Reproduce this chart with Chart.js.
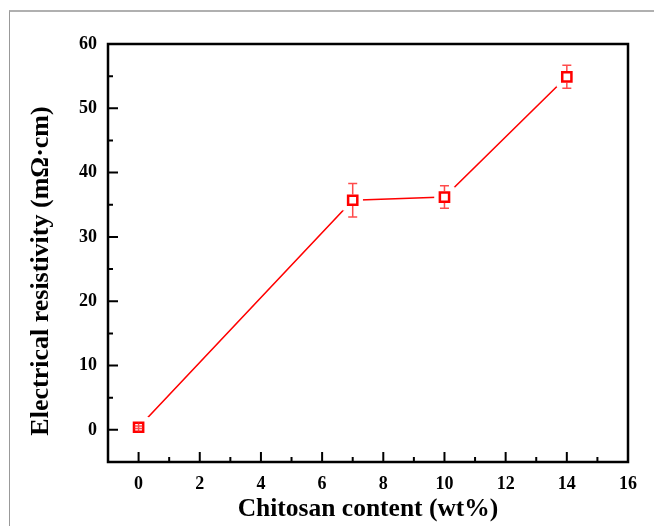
<!DOCTYPE html>
<html><head><meta charset="utf-8">
<script src="https://cdn.jsdelivr.net/npm/chart.js@4.4.0/dist/chart.umd.min.js"></script>
<style>
html,body{margin:0;padding:0;background:#fff;}
#wrap{position:relative;width:654px;height:526px;overflow:hidden;}
#frame{position:absolute;left:9px;top:10px;width:700px;height:600px;border-left:1px solid #999;border-top:2px solid #b0b0b0;box-sizing:border-box;}
canvas{position:absolute;left:0;top:0;}
</style></head><body>
<div id="wrap"><div id="frame"></div><canvas id="c" width="654" height="526"></canvas></div>
<script>
const chitosanContent = [0, 7, 10, 14];
const resistivity = [0.4, 35.7, 36.2, 54.9];
const resistivityError = [0.2, 2.6, 1.75, 1.8];
const xTickValues = [0, 2, 4, 6, 8, 10, 12, 14, 16];
const xMinorTickValues = [1, 3, 5, 7, 9, 11, 13, 15];
const yTickValues = [0, 10, 20, 30, 40, 50, 60];
const yMinorTickValues = [5, 15, 25, 35, 45, 55];
const xTitle = 'Chitosan content (wt%)';
const yTitle = 'Electrical resistivity (m\u03A9\u00B7cm)';

const points = chitosanContent.map((x, i) => ({x: x, y: resistivity[i]}));
const FONT = '"Liberation Serif", "Times New Roman", serif';

const errorBars = {
  id: 'errorBars',
  afterDatasetsDraw(chart) {
    const ctx = chart.ctx, xs = chart.scales.x, ys = chart.scales.y;
    const half = 5.8, cap = 4.5;
    ctx.save();
    ctx.strokeStyle = 'rgba(255,30,30,0.8)';
    ctx.lineWidth = 1.5;
    chitosanContent.forEach((xv, i) => {
      const px = xs.getPixelForValue(xv);
      const py = ys.getPixelForValue(resistivity[i]);
      const t = ys.getPixelForValue(resistivity[i] + resistivityError[i]);
      const b = ys.getPixelForValue(resistivity[i] - resistivityError[i]);
      ctx.beginPath();
      if (py - t > half) {
        ctx.moveTo(px, t); ctx.lineTo(px, py - half);
        ctx.moveTo(px, py + half); ctx.lineTo(px, b);
      } else {
        ctx.moveTo(px, py - half + 1); ctx.lineTo(px, py + half - 1);
      }
      ctx.moveTo(px - cap, t); ctx.lineTo(px + cap, t);
      ctx.moveTo(px - cap, b); ctx.lineTo(px + cap, b);
      ctx.stroke();
    });
    ctx.restore();
  }
};

const frameTicks = {
  id: 'frameTicks',
  afterDraw(chart) {
    const ctx = chart.ctx, xs = chart.scales.x, ys = chart.scales.y, a = chart.chartArea;
    ctx.save();
    ctx.strokeStyle = '#000';
    ctx.lineWidth = 2;
    ctx.beginPath();
    xTickValues.forEach(v => { const p = xs.getPixelForValue(v); ctx.moveTo(p, a.bottom); ctx.lineTo(p, a.bottom - 10); });
    xMinorTickValues.forEach(v => { const p = xs.getPixelForValue(v); ctx.moveTo(p, a.bottom); ctx.lineTo(p, a.bottom - 5); });
    yTickValues.forEach(v => { const p = ys.getPixelForValue(v); ctx.moveTo(a.left, p); ctx.lineTo(a.left + 10, p); });
    yMinorTickValues.forEach(v => { const p = ys.getPixelForValue(v); ctx.moveTo(a.left, p); ctx.lineTo(a.left + 5, p); });
    ctx.stroke();
    ctx.lineWidth = 2.5;
    ctx.strokeRect(a.left, a.top, a.right - a.left, a.bottom - a.top);
    // y axis title
    ctx.fillStyle = '#000';
    ctx.font = 'bold 26px ' + FONT;
    ctx.textAlign = 'center';
    ctx.textBaseline = 'middle';
    ctx.translate(41, (a.top + a.bottom) / 2 + 18);
    ctx.rotate(-Math.PI / 2);
    ctx.fillText(yTitle, 0, 0);
    ctx.restore();
  }
};

new Chart(document.getElementById('c'), {
  type: 'scatter',
  data: {
    datasets: [
      {
        data: points, order: 1, showLine: false,
        pointStyle: 'rect', pointRadius: 6.5, pointBorderWidth: 2.5,
        pointBorderColor: '#ff0000', pointBackgroundColor: '#ffffff'
      },
      {
        data: points, order: 2, showLine: false,
        pointStyle: 'rect', pointRadius: 14.5, pointBorderWidth: 0,
        pointBorderColor: 'rgba(0,0,0,0)', pointBackgroundColor: '#ffffff'
      },
      {
        data: points, order: 3, showLine: true, borderColor: '#ff0000', borderWidth: 1.6,
        pointRadius: 0, tension: 0, fill: false
      }
    ]
  },
  options: {
    responsive: false, animation: false, devicePixelRatio: 1,
    layout: {padding: {left: 0, right: 26, top: 44, bottom: 0}},
    plugins: {legend: {display: false}, tooltip: {enabled: false}},
    scales: {
      x: {
        type: 'linear', min: -1, max: 16,
        grid: {display: false, drawTicks: false}, border: {display: false},
        afterBuildTicks: s => { s.ticks = xTickValues.map(v => ({value: v})); },
        ticks: {padding: 12, color: '#000', autoSkip: false, maxRotation: 0,
                font: {family: FONT, size: 18, weight: 'bold'}},
        title: {display: true, text: xTitle, color: '#000',
                font: {family: FONT, size: 25.5, weight: 'bold'}, padding: {top: 0, bottom: 1}},
        afterFit: s => { s.height = 64; }
      },
      y: {
        type: 'linear', min: -5, max: 60,
        grid: {display: false, drawTicks: false}, border: {display: false},
        afterBuildTicks: s => { s.ticks = yTickValues.map(v => ({value: v})); },
        ticks: {padding: 11, color: '#000', autoSkip: false,
                font: {family: FONT, size: 18, weight: 'bold'}},
        afterFit: s => { s.width = 108; }
      }
    }
  },
  plugins: [errorBars, frameTicks]
});
</script>
</body></html>
